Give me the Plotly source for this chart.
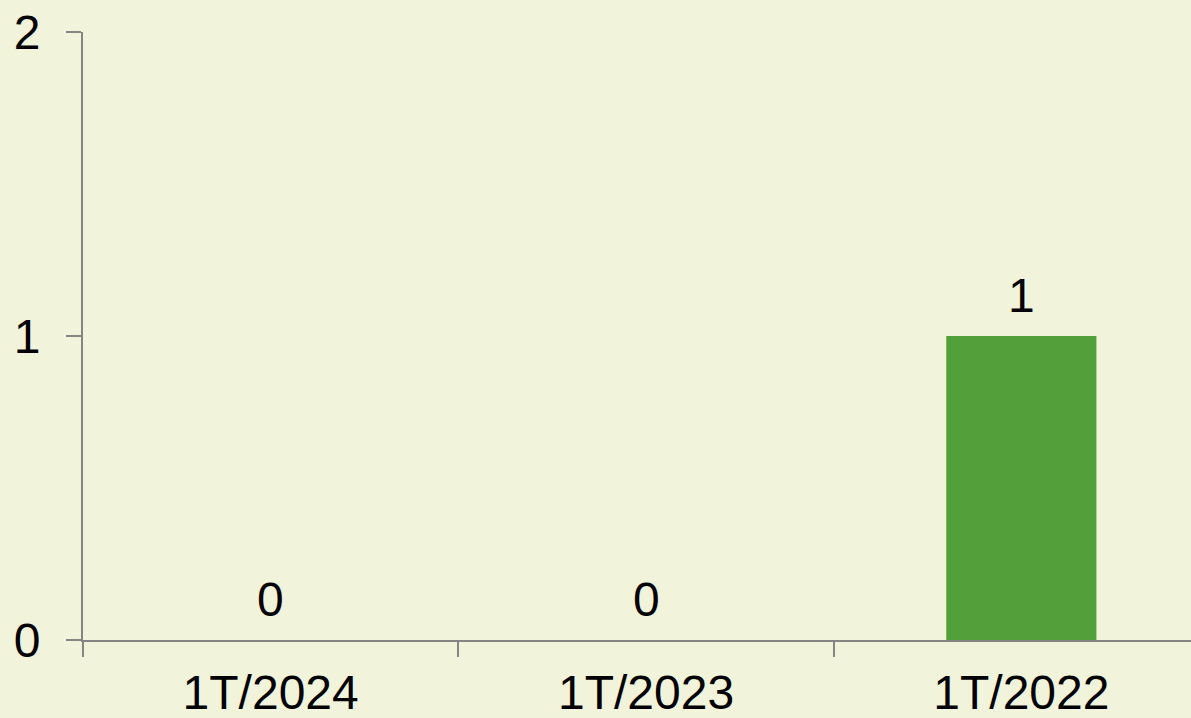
import plotly.graph_objects as go

categories = ["1T/2024", "1T/2023", "1T/2022"]
values = [0, 0, 1]
y_ticks = [0, 1, 2]

BG = "#F1F4DA"
BAR = "#539F3A"
AXIS = "#858585"
FONT = "Liberation Sans, Arial, sans-serif"
FS = 48

fig = go.Figure()
fig.add_trace(go.Bar(
    x=categories, y=values, marker=dict(color=BAR, line=dict(width=0)),
    width=0.4, hoverinfo="skip",
))
for c, v in zip(categories, values):
    fig.add_annotation(x=c, y=v, text=str(v), showarrow=False,
                       yanchor="bottom", yshift=12,
                       font=dict(family=FONT, size=FS, color="#000000"))

fig.update_layout(
    width=1191, height=718,
    margin=dict(l=83, r=0, t=32, b=78),
    paper_bgcolor=BG, plot_bgcolor=BG,
    showlegend=False,
    font=dict(family=FONT, size=FS, color="#000000"),
)
fig.update_xaxes(
    type="category", range=[-0.5, 2.452],
    showline=True, linecolor=AXIS, linewidth=2,
    ticks="outside", tickson="boundaries", ticklen=15, tickwidth=2, tickcolor=AXIS,
    showgrid=False, zeroline=False,
    ticklabelstandoff=9,
    tickfont=dict(family=FONT, size=FS, color="#000000"),
)
fig.update_yaxes(
    range=[0, 2], tickvals=y_ticks, ticktext=[str(t) for t in y_ticks],
    showline=True, linecolor=AXIS, linewidth=2,
    ticks="outside", ticklen=15, tickwidth=2, tickcolor=AXIS,
    showgrid=False, zeroline=False,
    ticklabelstandoff=16,
    tickfont=dict(family=FONT, size=FS, color="#000000"),
)

fig.write_html(
    "out.html",
    config={"displayModeBar": False},
    post_script="document.body.style.margin='0';document.body.style.padding='0';"
                "document.body.style.background='" + BG + "';",
)
